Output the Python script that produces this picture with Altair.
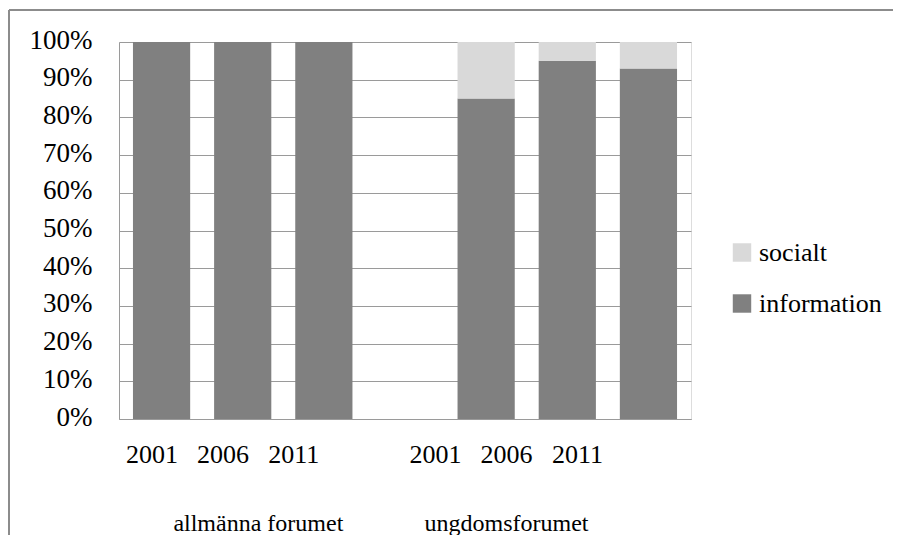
import altair as alt
import pandas as pd

# ---- data ----
keys = ["a2001", "a2006", "a2011", "gap", "u2001", "u2006", "u2011"]
years = ["2001", "2006", "2011", "", "2001", "2006", "2011"]
information = [1.00, 1.00, 1.00, None, 0.85, 0.95, 0.93]
socialt = [0.00, 0.00, 0.00, None, 0.15, 0.05, 0.07]
series = ["socialt", "information"]
series_colors = ["#d9d9d9", "#808080"]
groups = ["allmänna forumet", "ungdomsforumet"]
group_pos = [1.5, 5.0]
y_ticks = [0, 0.1, 0.2, 0.3, 0.4, 0.5, 0.6, 0.7, 0.8, 0.9, 1.0]

FONT = "Liberation Serif, Times New Roman, Times, DejaVu Serif, serif"
GRID = "#9a9a9a"

rows = []
for k, inf, soc in zip(keys, information, socialt):
    if inf is None:
        continue
    rows.append({"key": k, "serie": "information", "value": inf, "ord": 0})
    rows.append({"key": k, "serie": "socialt", "value": soc, "ord": 1})
df = pd.DataFrame(rows)

year_df = pd.DataFrame(
    [{"pos": i, "text": y} for i, y in enumerate(years) if y]
)
group_df = pd.DataFrame({"pos": group_pos, "text": groups})

bars = alt.Chart(df).mark_bar().encode(
    x=alt.X(
        "key:N",
        sort=keys,
        scale=alt.Scale(domain=keys, paddingInner=0.295, paddingOuter=0.172),
        axis=alt.Axis(labels=False, ticks=False, title=None, grid=False,
                      domainColor=GRID, domainWidth=1),
    ),
    y=alt.Y(
        "value:Q",
        stack="zero",
        scale=alt.Scale(domain=[0, 1], nice=False),
        axis=alt.Axis(format=".0%", values=y_ticks, title=None, ticks=False,
                      grid=True, gridColor=GRID, domainColor=GRID,
                      labelFont=FONT, labelFontSize=27, labelColor="#000000",
                      labelPadding=27, labelOffset=-2),
    ),
    color=alt.Color(
        "serie:N",
        scale=alt.Scale(domain=series, range=series_colors),
        legend=alt.Legend(
            title=None, orient="none", legendX=610, legendY=197.5,
            symbolType="square", symbolSize=340, symbolStrokeWidth=0,
            labelFont=FONT, labelFontSize=26, labelColor="#000000",
            labelOffset=4, rowPadding=25, padding=0,
        ),
    ),
    order=alt.Order("ord:Q"),
)

label_scale = alt.Scale(domain=[0, 6], range=[33, 458.4], nice=False, zero=False)

year_labels = alt.Chart(year_df).mark_text(
    font=FONT, fontSize=26, color="#000000", baseline="alphabetic"
).encode(
    x=alt.X("pos:Q", scale=label_scale, axis=None),
    y=alt.value(421),
    text="text:N",
)

group_labels = alt.Chart(group_df).mark_text(
    font=FONT, fontSize=24, color="#000000", baseline="alphabetic"
).encode(
    x=alt.X("pos:Q", scale=label_scale, axis=None),
    y=alt.value(489),
    text="text:N",
)

frame_df = pd.DataFrame({"a": [0]})
frame_left = alt.Chart(frame_df).mark_rule(color="#8c8c8c", strokeWidth=2).encode(
    x=alt.value(-110), y=alt.value(-32), y2=alt.value(600)
)
frame_top = alt.Chart(frame_df).mark_rule(color="#8c8c8c", strokeWidth=2).encode(
    x=alt.value(-110), x2=alt.value(900), y=alt.value(-32)
)

chart = alt.layer(bars, year_labels, group_labels, frame_left, frame_top).resolve_scale(
    x="independent"
).properties(
    width=572,
    height=377,
    autosize=alt.AutoSizeParams(type="none"),
    padding={"left": 111, "top": 34, "right": 202, "bottom": 116},
).configure_view(stroke=None).configure(background="white")

chart.save("out.html", embed_options={"renderer": "svg", "actions": False})
